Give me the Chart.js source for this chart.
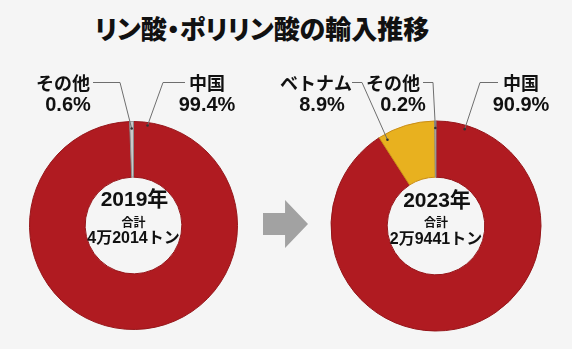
<!DOCTYPE html>
<html lang="ja">
<head>
  <meta charset="UTF-8" />
  <title>リン酸・ポリリン酸の輸入推移</title>
  <script src="https://cdn.jsdelivr.net/npm/chart.js"></script>
  <style>
    html, body { margin: 0; padding: 0; }
    body {
      width: 572px; height: 349px; position: relative; overflow: hidden;
      background: #f5f5f5;
      font-family: "Noto Sans CJK JP", "Noto Sans", sans-serif;
    }
    #title {
      position: absolute; left: 0; top: 11px; width: 524px;
      text-align: center; font-size: 26px; font-weight: 900; color: #111;
      line-height: 34px; font-feature-settings: "palt";
    }
    canvas { position: absolute; top: 0; }
    #c2019 { left: 0; }
    #c2023 { left: 266px; }
    #arrow {
      position: absolute; left: 263px; top: 200px; width: 45px; height: 48px;
      background: #a2a2a2;
      clip-path: polygon(0 27%, 49% 27%, 49% 0, 100% 50%, 49% 100%, 49% 73%, 0 73%);
    }
  </style>
</head>
<body>
  <div id="title">リン酸・ポリリン酸の輸入推移</div>
  <canvas id="c2019" width="286" height="349"></canvas>
  <div id="arrow"></div>
  <canvas id="c2023" width="306" height="349"></canvas>

  <script>
    // データ
    const years = ['2019年', '2023年'];
    const totals = ['4万2014トン', '2万9441トン'];

    const countries2019 = ['中国', 'その他'];
    const shares2019 = [99.4, 0.6];

    const countries2023 = ['中国', 'ベトナム', 'その他'];
    const shares2023 = [90.9, 8.9, 0.2];

    const colorOf = { '中国': '#b01b21', 'ベトナム': '#e8b11f', 'その他': '#c9c9c9' };
    const edgeOf = { '中国': '#951519', 'ベトナム': '#c98d16', 'その他': '#8c8c8c' };

    // 数字は欧文フォント、かなと漢字は Noto Sans CJK JP で描く
    const FONT = '"Liberation Sans", "Noto Sans CJK JP", sans-serif';
    const CJK = '"Noto Sans CJK JP", sans-serif';

    // 引き出し線と国名ラベルの配置（キャンバス内座標）
    const callouts2019 = [
      { i: 1, name: [63, 83], value: [68, 105], path: [[93, 82], [120, 82]], mid: true, inset: 7 },
      { i: 0, name: [207, 83], value: [207, 105], path: [[185, 82], [163, 82]], offset: 8, inset: 3 }
    ];
    const callouts2023 = [
      { i: 1, name: [50, 83], value: [56, 105], path: [[86, 82], [96, 82]], offset: 3.4, inset: 6 },
      { i: 2, name: [127, 83], value: [137, 105], path: [[157, 82], [167, 82]], mid: true, inset: 7 },
      { i: 0, name: [255, 83], value: [255, 105], path: [[232, 82], [214, 82]], offset: 16.5, inset: 4 }
    ];

    const labelPlugin = {
      id: 'labels',
      afterDraw(chart, args, opts) {
        const ctx = chart.ctx;
        const meta = chart.getDatasetMeta(0);
        const names = chart.data.labels;
        const vals = chart.data.datasets[0].data;
        ctx.save();
        ctx.textAlign = 'center';
        ctx.textBaseline = 'middle';

        opts.callouts.forEach(c => {
          const arc = meta.data[c.i];
          const p = arc.getProps(['x', 'y', 'startAngle', 'endAngle', 'outerRadius'], true);
          const a = c.mid ? (p.startAngle + p.endAngle) / 2 : p.startAngle + c.offset * Math.PI / 180;
          const r = p.outerRadius - c.inset;
          const ax = p.x + Math.cos(a) * r, ay = p.y + Math.sin(a) * r;

          ctx.strokeStyle = '#6e6e6e';
          ctx.lineWidth = 1;
          ctx.beginPath();
          ctx.moveTo(c.path[0][0], c.path[0][1] + 0.5);
          for (let k = 1; k < c.path.length; k++) ctx.lineTo(c.path[k][0], c.path[k][1] + 0.5);
          ctx.lineTo(ax, ay);
          ctx.stroke();
          ctx.fillStyle = '#333';
          ctx.beginPath();
          ctx.arc(ax, ay, 1.3, 0, Math.PI * 2);
          ctx.fill();

          ctx.fillStyle = '#111';
          ctx.font = 'bold 18px ' + CJK;
          ctx.fillText(names[c.i], c.name[0], c.name[1]);
          ctx.font = 'bold 20px ' + FONT;
          ctx.fillText(vals[c.i].toFixed(1) + '%', c.value[0], c.value[1]);
        });

        // 中央の年と合計
        const cx = meta.data[0].x, cy = meta.data[0].y;
        ctx.fillStyle = '#111';
        ctx.font = 'bold 21px ' + FONT;
        ctx.fillText(opts.year, cx + 1, cy - 25);
        ctx.font = 'bold 12px ' + CJK;
        ctx.fillText('合計', cx, cy - 3.5);
        ctx.font = 'bold 16px ' + FONT;
        ctx.fillText(opts.total, cx, cy + 13.5);
        ctx.restore();
      }
    };

    function makeDonut(id, countries, shares, year, total, callouts, padding) {
      return new Chart(document.getElementById(id), {
        type: 'doughnut',
        data: {
          labels: countries,
          datasets: [{
            data: shares,
            backgroundColor: countries.map(n => colorOf[n]),
            borderColor: countries.map(n => edgeOf[n]),
            borderWidth: 1
          }]
        },
        options: {
          responsive: false,
          animation: false,
          cutout: '46.5%',
          layout: { padding: padding },
          plugins: {
            legend: { display: false },
            tooltip: { enabled: false },
            labels: { callouts: callouts, year: year, total: total }
          }
        },
        plugins: [labelPlugin]
      });
    }

    makeDonut('c2019', countries2019, shares2019, years[0], totals[0], callouts2019,
      { left: 29, right: 48, top: 121, bottom: 19 });
    makeDonut('c2023', countries2023, shares2023, years[1], totals[1], callouts2023,
      { left: 64.5, right: 30.5, top: 120.5, bottom: 17.5 });
  </script>
</body>
</html>
